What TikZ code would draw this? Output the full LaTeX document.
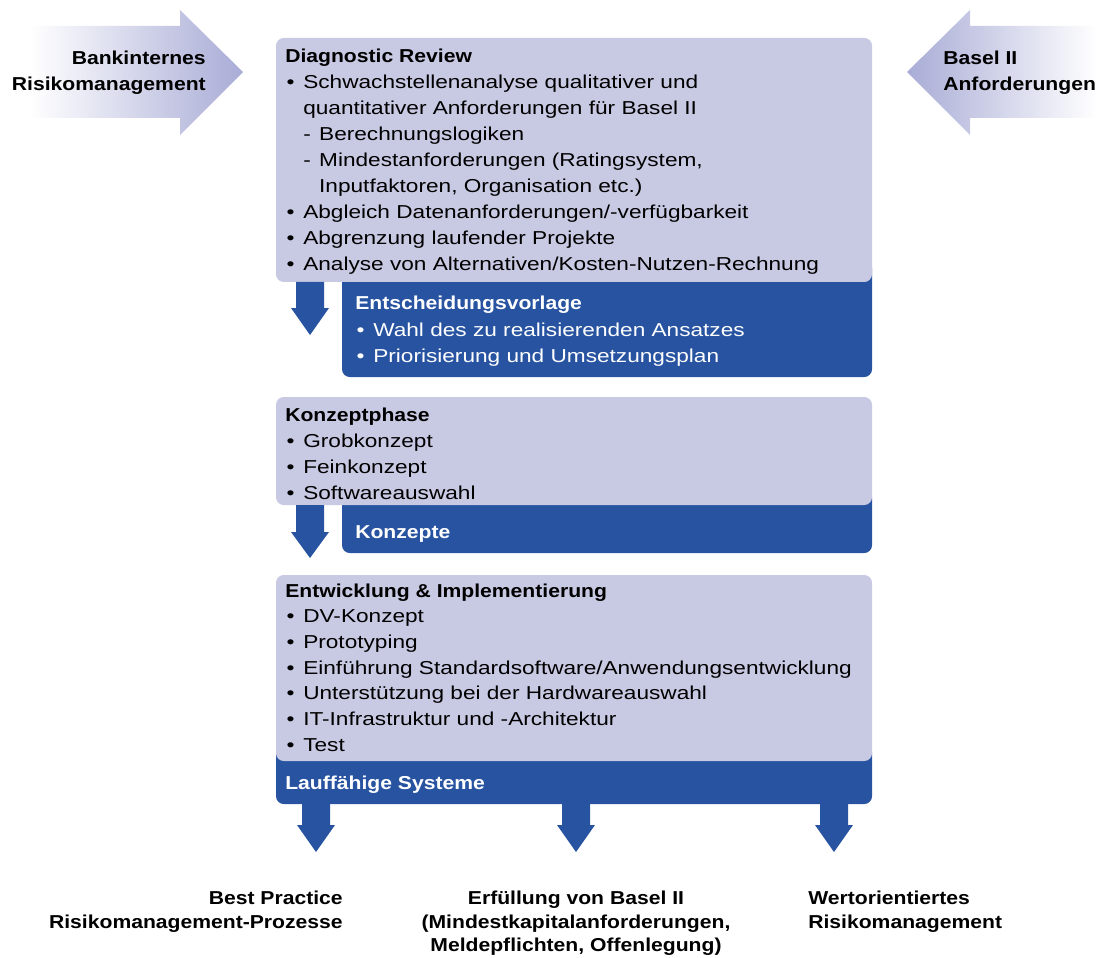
\documentclass[tikz,border=0pt]{standalone}
\usepackage{fontspec}
\setmainfont[FakeStretch=1.21, BoldFeatures={FakeStretch=1.13}]{Liberation Sans}

\definecolor{boxlav}{HTML}{C8C9E3}
\definecolor{boxblue}{HTML}{2753A1}
\definecolor{arrowlav}{HTML}{A9ACD6}

% list helpers: bullet, dash, indent of a wrapped line
\newcommand{\itm}{\makebox[12.8pt][l]{\hspace{1pt}\textbullet}}
\newcommand{\subitm}{\makebox[11.3pt][l]{-}}
\newcommand{\wrapin}[1]{\hspace*{#1}}

% block arrow pointing down: x, top, start of head, tip
\newcommand{\dnarrow}[4]{%
  \fill[boxblue] (#1-14,#2) -- (#1+14,#2) -- (#1+14,#3) -- (#1+19,#3)
    -- (#1,#4) -- (#1-19,#3) -- (#1-14,#3) -- cycle;}

\tikzset{
  lav/.style={fill=boxlav, rounded corners=5.5pt},
  dark/.style={fill=boxblue, rounded corners=5.5pt},
  txt/.style={anchor=base west, inner sep=0pt, font=\fontsize{13.3}{16}\selectfont},
  wtxt/.style={txt, text=white},
  lbl/.style={inner sep=0pt, align=center, font=\bfseries\fontsize{13.3}{16.7}\selectfont},
}

\begin{document}
\begin{tikzpicture}[x=0.025cm, y=-0.025cm]
\useasboundingbox (0,0) rectangle (1097,958);

% Input arrows
\shade[left color=white, right color=arrowlav]
  (30,26) -- (180,26) -- (180,10) -- (243,72) -- (180,135) -- (180,118) -- (30,118) -- cycle;
\shade[left color=arrowlav, right color=white]
  (907,72) -- (970,10) -- (970,26) -- (1097,26) -- (1097,118) -- (970,118) -- (970,135) -- cycle;
\node[txt, anchor=base east, font=\bfseries\fontsize{13.3}{16}\selectfont] (bank1) at (206,65) {Bankinternes};
\node[txt, anchor=base east, font=\bfseries\fontsize{13.3}{16}\selectfont] (bank2) at (206,91) {Risikomanagement};
\node[txt, font=\bfseries\fontsize{13.3}{16}\selectfont] (basel1) at (943,65) {Basel II};
\node[txt, font=\bfseries\fontsize{13.3}{16}\selectfont] (basel2) at (943,91) {Anforderungen};

% Phase 1: Diagnostic Review
\fill[dark] (342,260) rectangle (872,377);
\fill[lav] (276,38) rectangle (872,282);
\dnarrow{310}{282}{308}{335}
\foreach \t [count=\i from 0] in {%
    \textbf{Diagnostic Review},
    \itm Schwachstellenanalyse qualitativer und,
    \wrapin{12.8pt}quantitativer Anforderungen für Basel II,
    \wrapin{12.8pt}\subitm Berechnungslogiken,
    {\wrapin{12.8pt}\subitm Mindestanforderungen (Ratingsystem,},
    \wrapin{24.1pt}Inputfaktoren{,} Organisation etc.),
    \itm Abgleich Datenanforderungen/-verfügbarkeit,
    \itm Abgrenzung laufender Projekte,
    \itm Analyse von Alternativen/Kosten-Nutzen-Rechnung}
  \node[txt] (dr-\i) at (285,63+26*\i) {\t};
\foreach \t [count=\i from 0] in {%
    \textbf{Entscheidungsvorlage},
    \itm Wahl des zu realisierenden Ansatzes,
    \itm Priorisierung und Umsetzungsplan}
  \node[wtxt] (ev-\i) at (355,310+26*\i) {\t};

% Phase 2: Konzeptphase
\fill[dark] (342,490) rectangle (872,553);
\fill[lav] (276,397) rectangle (872,505);
\dnarrow{310}{505}{532}{558}
\foreach \t [count=\i from 0] in {%
    \textbf{Konzeptphase},
    \itm Grobkonzept,
    \itm Feinkonzept,
    \itm Softwareauswahl}
  \node[txt] (kp-\i) at (285,421+26*\i) {\t};
\node[wtxt] (konz) at (355,538) {\textbf{Konzepte}};

% Phase 3: Entwicklung & Implementierung
\fill[dark] (276,745) rectangle (872,804);
\fill[lav] (276,575) rectangle (872,761);
\foreach \t [count=\i from 0] in {%
    \textbf{Entwicklung \& Implementierung},
    \itm DV-Konzept,
    \itm Prototyping,
    \itm Einführung Standardsoftware/Anwendungsentwicklung,
    \itm Unterstützung bei der Hardwareauswahl,
    \itm IT-Infrastruktur und -Architektur,
    \itm Test}
  \node[txt] (ei-\i) at (285,597+25.7*\i) {\t};
\node[wtxt] (sys) at (285,789) {\textbf{Lauffähige Systeme}};

% Results
\dnarrow{316}{804}{825}{852}
\dnarrow{576}{804}{825}{852}
\dnarrow{834}{804}{825}{852}
\node[lbl, align=right, anchor=north east] (res1) at (343,891) {Best Practice\\Risikomanagement-Prozesse};
\node[lbl, anchor=north] (res2) at (576,891) {Erfüllung von Basel II\\(Mindestkapitalanforderungen,\\Meldepflichten, Offenlegung)};
\node[lbl, align=left, anchor=north west] (res3) at (808,891) {Wertorientiertes\\Risikomanagement};

\end{tikzpicture}
\end{document}
